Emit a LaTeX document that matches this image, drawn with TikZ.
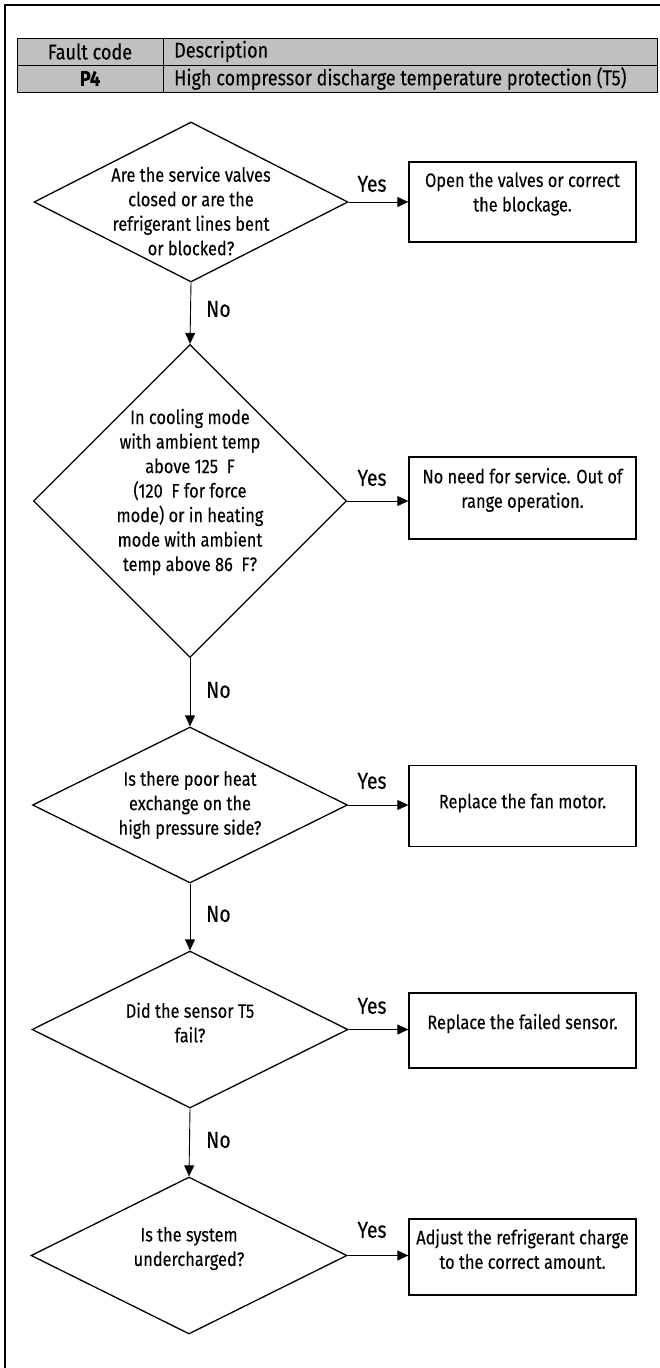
\documentclass[tikz,border=0pt]{standalone}
\usepackage{fontspec}
\setmainfont{Fira Sans}[FakeStretch=0.84, FakeBold=0.12]
\usetikzlibrary{shapes.geometric,arrows.meta}
\definecolor{tabgray}{RGB}{192,192,192}
\begin{document}
\begin{tikzpicture}[x=1pt,y=-1pt,
  dia/.style={draw, line width=1.3pt, diamond, inner sep=0pt},
  box/.style={draw, line width=1.3pt, rectangle, inner sep=0pt, minimum width=227pt},
  txt/.style={align=center, inner sep=0pt, font=\fontsize{19.5}{24.5}\selectfont},
  ttxt/.style={inner sep=0pt, font=\fontsize{21.5}{22}\selectfont},
  yn/.style={inner sep=0pt, font=\fontsize{23}{24}\selectfont},
  arr/.style={line width=0.9pt, -{Triangle[length=11pt,width=10pt]}}]
\useasboundingbox (0,0) rectangle (660,1368);
% frame
\draw[line width=1.3pt] (5,1368) -- (5,5) -- (660,5);
% table
\fill[tabgray] (17,38) rectangle (657,92);
\draw[line width=1pt] (17,38) rectangle (657,92);
\draw[line width=1pt] (17,65) -- (657,65);
\draw[line width=1pt] (163,38) -- (163,92);
\node[ttxt] (fc) at (90,51.5) {Fault code};
\node[ttxt, anchor=west] (desc) at (174,51.5) {Description};
\node[ttxt] (p4) at (90,78.5) {\textbf{P4}};
\node[ttxt, anchor=west] (ddesc) at (174,78.5) {High compressor discharge temperature protection (T5)};
% diamonds
\node[dia, minimum width=314pt, minimum height=160pt] (d1) at (191,202) {};
\node[txt] (t1) at ([yshift=-9pt]d1.center) {Are the service valves\\closed or are the\\refrigerant lines bent\\or blocked?};
\node[dia, minimum width=313pt, minimum height=313pt] (d2) at (190,501) {};
\node[txt] (t2) at ([yshift=9pt]d2.center) {In cooling mode\\with ambient temp\\above 125\ \ F\\(120\ \ F for force\\mode) or in heating\\mode with ambient\\temp above 86\ \ F?};
\node[dia, minimum width=315pt, minimum height=156pt] (d3) at (190,805) {};
\node[txt] (t3) at (d3.center) {Is there poor heat\\exchange on the\\high pressure side?};
\node[dia, minimum width=316pt, minimum height=157pt] (d4) at (190,1029.5) {};
\node[txt] (t4) at ([yshift=7pt]d4.center) {Did the sensor T5\\fail?};
\node[dia, minimum width=316pt, minimum height=157pt] (d5) at (189,1255.5) {};
\node[txt] (t5) at ([yshift=7pt]d5.center) {Is the system\\undercharged?};
% boxes
\node[box, minimum height=80pt] (b1) at (522.5,202) {};
\node[txt] (bt1) at ([yshift=8pt]b1.center) {Open the valves or correct\\the blockage.};
\node[box, minimum height=82pt] (b2) at (522.5,498) {};
\node[txt] (bt2) at ([yshift=8pt]b2.center) {No need for service. Out of\\range operation.};
\node[box, minimum height=81pt] (b3) at (522.5,806) {};
\node[txt] (bt3) at ([yshift=3pt]b3.center) {Replace the fan motor.};
\node[box, minimum height=75pt] (b4) at (522.5,1030.5) {};
\node[txt] (bt4) at ([yshift=7pt]b4.center) {Replace the failed sensor.};
\node[box, minimum height=76pt] (b5) at (522.5,1257) {};
\node[txt] (bt5) at ([yshift=8pt]b5.center) {Adjust the refrigerant charge\\to the correct amount.};
% yes connectors
\draw[arr] (d1.east) -- (d1.east -| b1.west);
\draw[arr] (d2.east) -- (d2.east -| b2.west);
\draw[arr] (d3.east) -- (d3.east -| b3.west);
\draw[arr] (d4.east) -- (d4.east -| b4.west);
\draw[arr] (d5.east) -- (d5.east -| b5.west);
\node[yn] (y1) at (372,184) {Yes};
\node[yn] (y2) at (372,478) {Yes};
\node[yn] (y3) at (372,781) {Yes};
\node[yn] (y4) at (372,1006) {Yes};
\node[yn] (y5) at (372,1230) {Yes};
% no connectors
\draw[arr] (d1.south) -- (d2.north);
\draw[arr] (d2.south) -- (d3.north);
\draw[arr] (d3.south) -- (d4.north);
\draw[arr] (d4.south) -- (d5.north);
\node[yn, anchor=west] (n1) at (206,309) {No};
\node[yn, anchor=west] (n2) at (206,690) {No};
\node[yn, anchor=west] (n3) at (206,914) {No};
\node[yn, anchor=west] (n4) at (206,1140) {No};
\end{tikzpicture}
\end{document}
